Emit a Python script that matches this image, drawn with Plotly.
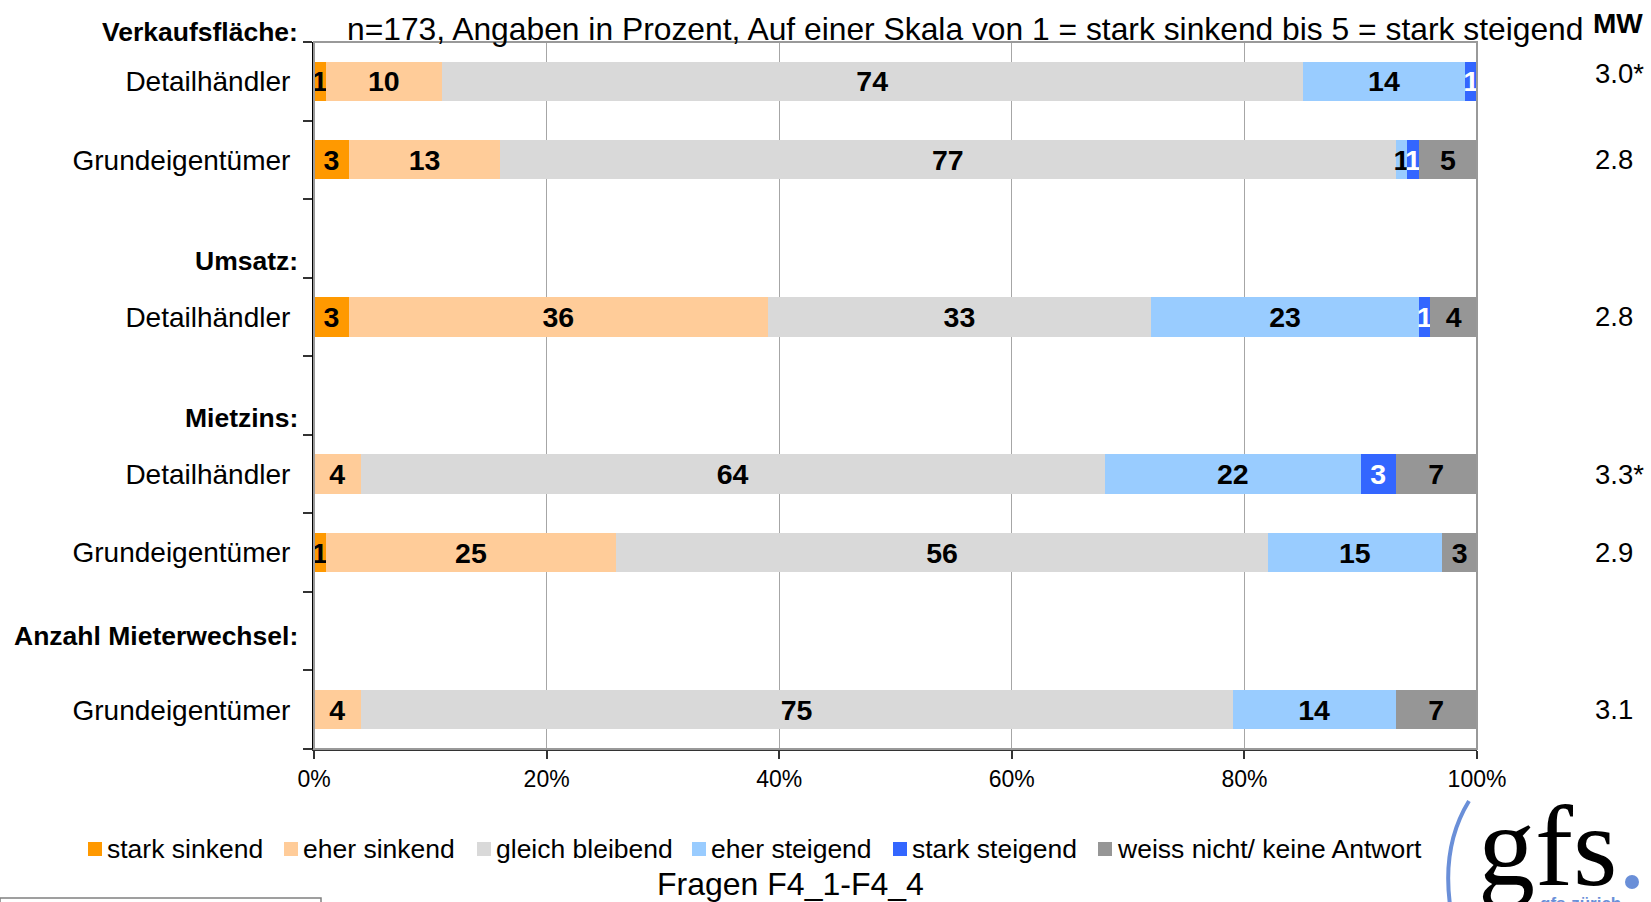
import plotly.graph_objects as go

# Row labels (empty rows separate the question blocks)
rows = ["Detailhändler", "Grundeigentümer", "", "Detailhändler", "",
        "Detailhändler", "Grundeigentümer", "", "Grundeigentümer"]

# Answer shares in percent per row
stark_sinkend = [1, 3, None, 3, None, 0, 1, None, 0]
eher_sinkend = [10, 13, None, 36, None, 4, 25, None, 4]
gleich_bleibend = [74, 77, None, 33, None, 64, 56, None, 75]
eher_steigend = [14, 1, None, 23, None, 22, 15, None, 14]
stark_steigend = [1, 1, None, 1, None, 3, 0, None, 0]
weiss_nicht = [0, 5, None, 4, None, 7, 3, None, 7]

# Mean values (MW) per row
mw = ["3.0*", "2.8", "", "2.8", "", "3.3*", "2.9", "", "3.1"]

# Block headings: text, reference frame and vertical placement
headers = [
    ("Verkaufsfläche:", "paper", 1.014),
    ("Umsatz:", "y", 2.29),
    ("Mietzins:", "y", 4.29),
    ("Anzahl Mieterwechsel:", "y", 7.06),
]

x_ticks = [0, 20, 40, 60, 80, 100]

series = [
    ("stark sinkend", stark_sinkend, "#FF9900", "black"),
    ("eher sinkend", eher_sinkend, "#FFCC99", "black"),
    ("gleich bleibend", gleich_bleibend, "#D9D9D9", "black"),
    ("eher steigend", eher_steigend, "#99CCFF", "black"),
    ("stark steigend", stark_steigend, "#3366FF", "white"),
    ("weiss nicht/ keine Antwort", weiss_nicht, "#969696", "black"),
]

FONT = "Liberation Sans, Arial, sans-serif"
BLUE = "#6A8FD8"
W, H = 1651, 902
ML, MR, MT, MB = 314, 174, 42, 153
PW, PH = W - ML - MR, H - MT - MB


def px_x(px):
    """Page pixel column -> paper x."""
    return (px - ML) / PW


def px_y(py):
    """Page pixel row -> paper y."""
    return (H - MB - py) / PH


idx = list(range(len(rows)))

fig = go.Figure()
for name, vals, color, tcolor in series:
    fig.add_trace(go.Bar(
        name=name,
        y=idx,
        x=vals,
        orientation="h",
        marker=dict(color=color, line=dict(width=0)),
        text=[str(v) if v else "" for v in vals],
        textposition="inside",
        insidetextanchor="middle",
        constraintext="none",
        textangle=0,
        textfont=dict(family=FONT, size=28.5, color=tcolor, weight="bold"),
        width=0.5,
        hoverinfo="skip",
        showlegend=False,
    ))

annotations = []
shapes = []

# block headings
for h, ref, yp in headers:
    annotations.append(dict(
        text="<b>%s</b>" % h, x=-0.012, xref="paper", y=yp, yref=ref,
        xanchor="right", yanchor="middle", showarrow=False,
        font=dict(family=FONT, size=26.5, color="black")))

# mean values
for i, m in zip(idx, mw):
    if m:
        annotations.append(dict(
            text=m, x=1.100, xref="paper", y=i, yref="y",
            xanchor="left", yanchor="middle", showarrow=False,
            yshift=8 if i == 0 else 0,
            font=dict(family=FONT, size=27.5, color="black")))

# legend row below the chart: colour square + label per series
legend_left = [88, 284, 477, 692, 893, 1098]
legend_mid = 849
for (name, _, color, _), lx in zip(series, legend_left):
    shapes.append(dict(type="rect", xref="paper", yref="paper",
                       x0=px_x(lx), x1=px_x(lx + 14),
                       y0=px_y(legend_mid - 7), y1=px_y(legend_mid + 7),
                       fillcolor=color, line=dict(width=0)))
    annotations.append(dict(text=name, x=px_x(lx + 17), xref="paper",
                            y=px_y(legend_mid), yref="paper",
                            xanchor="left", yanchor="middle", showarrow=False,
                            font=dict(family=FONT, size=26.5, color="black")))

annotations += [
    dict(text="<b>MW</b>", x=px_x(1591), xref="paper", y=px_y(23), yref="paper",
         xanchor="left", yanchor="middle", showarrow=False,
         font=dict(family=FONT, size=28, color="black")),
    dict(text="n=173, Angaben in Prozent, Auf einer Skala von 1 = stark sinkend bis 5 = stark steigend",
         x=0.0267, xref="paper", y=px_y(29), yref="paper",
         xanchor="left", yanchor="middle", showarrow=False,
         font=dict(family=FONT, size=31.8, color="black")),
    dict(text="Fragen F4_1-F4_4", x=px_x(790), xref="paper", y=px_y(884), yref="paper",
         xanchor="center", yanchor="middle", showarrow=False,
         font=dict(family=FONT, size=32, color="black")),
    # logo
    dict(text="gfs", x=px_x(1476), xref="paper", y=-0.1386, yref="paper",
         xanchor="left", yanchor="middle", showarrow=False,
         font=dict(family="Liberation Serif, Times New Roman, serif", size=114, color="black")),
    dict(text="<b>gfs-zürich</b>", x=px_x(1538), xref="paper", y=px_y(892), yref="paper",
         xanchor="left", yanchor="top", showarrow=False,
         font=dict(family=FONT, size=17, color=BLUE)),
]

shapes += [
    # plot frame (top and right edges)
    dict(type="rect", xref="paper", yref="paper", x0=0, x1=1, y0=0, y1=1,
         line=dict(color="#999999", width=2), layer="above"),
    # logo bracket and dot
    dict(type="path", xref="paper", yref="paper",
         path="M %.4f %.4f Q %.4f %.4f %.4f %.4f" % (
             px_x(1469), px_y(801), px_x(1442), px_y(845), px_x(1450), px_y(905)),
         line=dict(color=BLUE, width=4)),
    dict(type="circle", xref="paper", yref="paper",
         x0=px_x(1625), x1=px_x(1639), y0=px_y(875), y1=px_y(889),
         fillcolor=BLUE, line=dict(width=0)),
    # frame of the footer box
    dict(type="rect", xref="paper", yref="paper",
         x0=px_x(0), x1=px_x(321), y0=px_y(898), y1=px_y(930),
         line=dict(color="#808080", width=1.5)),
]

fig.update_layout(
    barmode="stack",
    width=W, height=H,
    margin=dict(l=ML, r=MR, t=MT, b=MB, autoexpand=False),
    paper_bgcolor="white", plot_bgcolor="white",
    font=dict(family=FONT, color="black"),
    showlegend=False,
    annotations=annotations,
    shapes=shapes,
)

fig.update_xaxes(
    range=[0, 100], tickvals=x_ticks, ticktext=["%d%%" % v for v in x_ticks],
    showgrid=True, gridcolor="#A6A6A6", gridwidth=1,
    showline=True, linecolor="#333333", linewidth=2,
    ticks="outside", ticklen=8, tickcolor="#333333", tickwidth=1.5,
    tickfont=dict(family=FONT, size=23, color="black"),
    zeroline=False, fixedrange=True,
)
fig.update_yaxes(
    range=[len(rows) - 0.5, -0.5], tickvals=idx, ticktext=rows,
    ticks="", showgrid=False, zeroline=False,
    showline=True, linecolor="#000000", linewidth=2,
    tickfont=dict(family=FONT, size=28, color="black"),
    ticklabelstandoff=16,
    minor=dict(tickvals=[i - 0.5 for i in range(len(rows) + 1)],
               ticks="outside", ticklen=9, tickcolor="#333333", tickwidth=1.5,
               showgrid=False),
    fixedrange=True,
)

fig.write_html("out.html")
